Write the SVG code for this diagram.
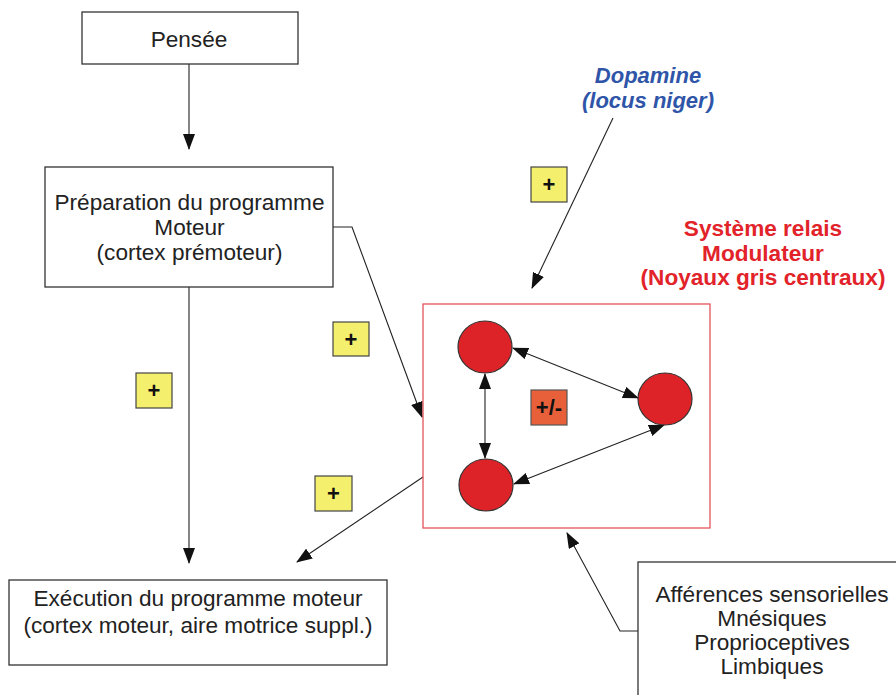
<svg xmlns="http://www.w3.org/2000/svg" width="896" height="695" viewBox="0 0 896 695">
<style>
.box{fill:#fff;stroke:#333;stroke-width:1.3}
.t{font-family:"Liberation Sans",Arial,sans-serif;font-size:22.6px;fill:#222;text-anchor:middle}
.red{font-family:"Liberation Sans",Arial,sans-serif;font-size:22.6px;font-weight:bold;fill:#e2232a;text-anchor:middle}
.blue{font-family:"Liberation Sans",Arial,sans-serif;font-size:22px;font-weight:bold;font-style:italic;fill:#2f55a8;text-anchor:middle}
.plus{fill:#f5ef6e;stroke:#444;stroke-width:1.2}
.pt{font-family:"Liberation Sans",Arial,sans-serif;font-size:22px;font-weight:bold;fill:#111;text-anchor:middle}
.c{fill:#dd2327;stroke:#333;stroke-width:1.2}
.ln{fill:none;stroke:#222;stroke-width:1.1}
</style>
<defs>
<marker id="ah" markerUnits="userSpaceOnUse" markerWidth="16" markerHeight="12" viewBox="0 0 16 12" refX="15" refY="6" orient="auto-start-reverse">
<path d="M0,0 L16,6 L0,12 z" fill="#111"/>
</marker>
</defs>
<g id="connectors">
<line class="ln" x1="189" y1="64" x2="189" y2="149" marker-end="url(#ah)"/>
<line class="ln" x1="189" y1="287" x2="189" y2="563" marker-end="url(#ah)"/>
<polyline class="ln" points="333,227 352,227 422,417" marker-end="url(#ah)"/>
<line class="ln" x1="613" y1="118" x2="532" y2="288" marker-end="url(#ah)"/>
<line class="ln" x1="423" y1="477" x2="297" y2="562" marker-end="url(#ah)"/>
<polyline class="ln" points="638,631 620,631 567,533" marker-end="url(#ah)"/>
<line class="ln" x1="485" y1="374" x2="485" y2="458" marker-start="url(#ah)" marker-end="url(#ah)"/>
<line class="ln" x1="513" y1="348" x2="638" y2="398" marker-start="url(#ah)" marker-end="url(#ah)"/>
<line class="ln" x1="514" y1="484" x2="664" y2="425" marker-start="url(#ah)" marker-end="url(#ah)"/>
</g>
<g id="pensee">
<rect class="box" x="82" y="12" width="216" height="52"/>
<text class="t" x="189" y="47">Pensée</text>
</g>
<g id="preparation">
<rect class="box" x="45" y="167" width="288" height="120"/>
<text class="t" x="189.5" y="210">Préparation du programme</text>
<text class="t" x="189.5" y="235">Moteur</text>
<text class="t" x="189.5" y="260">(cortex prémoteur)</text>
</g>
<g id="execution">
<rect class="box" x="9" y="580" width="378" height="85"/>
<text class="t" x="198" y="606">Exécution du programme moteur</text>
<text class="t" x="198" y="633">(cortex moteur, aire motrice suppl.)</text>
</g>
<g id="afferences">
<rect class="box" x="638" y="562" width="280" height="150"/>
<text class="t" x="772" y="602">Afférences sensorielles</text>
<text class="t" x="772" y="626">Mnésiques</text>
<text class="t" x="772" y="650">Proprioceptives</text>
<text class="t" x="772" y="674">Limbiques</text>
</g>
<g id="dopamine">
<text class="blue" x="648" y="83">Dopamine</text>
<text class="blue" x="648" y="108">(locus niger)</text>
</g>
<g id="systeme-label">
<text class="red" x="763" y="236">Système relais</text>
<text class="red" x="763" y="261">Modulateur</text>
<text class="red" x="763" y="285">(Noyaux gris centraux)</text>
</g>
<g id="systeme">
<rect x="423" y="304" width="287" height="224" fill="none" stroke="#e0474d" stroke-width="1.2"/>
</g>
<g id="noyau1"><ellipse class="c" cx="485" cy="347" rx="27" ry="26"/></g>
<g id="noyau2"><ellipse class="c" cx="665" cy="399" rx="27" ry="26"/></g>
<g id="noyau3"><ellipse class="c" cx="486" cy="485" rx="27" ry="26"/></g>
<g id="modulation">
<rect x="531" y="390" width="36" height="35" fill="#e8603a" stroke="#555" stroke-width="1.2"/>
<text class="pt" x="549" y="415" font-size="20">+/-</text>
</g>
<g id="plus1">
<rect class="plus" x="136" y="373" width="36" height="35"/>
<text class="pt" x="154" y="398">+</text>
</g>
<g id="plus2">
<rect class="plus" x="333" y="322" width="36" height="34"/>
<text class="pt" x="351" y="347">+</text>
</g>
<g id="plus3">
<rect class="plus" x="531" y="167" width="36" height="35"/>
<text class="pt" x="549" y="192">+</text>
</g>
<g id="plus4">
<rect class="plus" x="315" y="476" width="37" height="35"/>
<text class="pt" x="333.5" y="501">+</text>
</g>
</svg>
